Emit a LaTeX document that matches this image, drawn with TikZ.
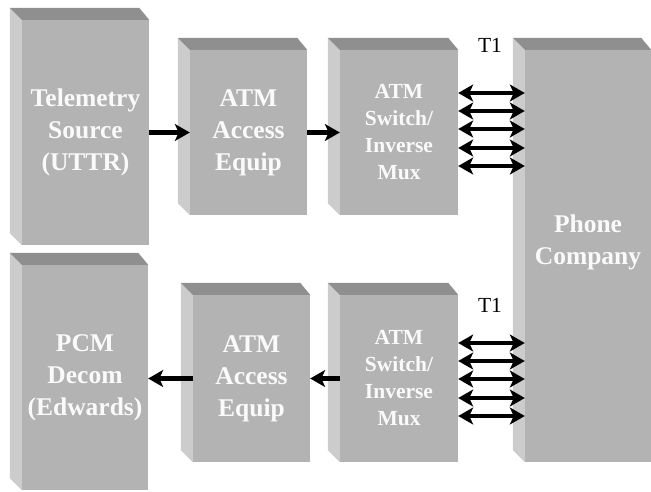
\documentclass[tikz,border=0pt]{standalone}
\usepackage{fontspec}
\setmainfont{Liberation Serif}
\usetikzlibrary{arrows.meta, calc}

\definecolor{frontgray}{RGB}{179,179,179}
\definecolor{sidegray}{RGB}{204,204,204}
\definecolor{topgray}{RGB}{143,143,143}

\begin{document}
\begin{tikzpicture}[
    x=1pt, y=-1pt,
    face/.style={fill=frontgray, inner sep=0pt, align=center, text=gray!4, font=\bfseries\fontsize{25.5}{32}\selectfont},
    smallface/.style={face, font=\bfseries\fontsize{21.5}{27}\selectfont},
    arr/.style={-{Stealth[length=15pt, width=17pt, inset=4pt]}, line width=4.5pt},
    dbl/.style={{Stealth[length=15pt, width=17pt, inset=4pt]}-{Stealth[length=15pt, width=17pt, inset=4pt]}, line width=4pt},
    lbl/.style={font=\fontsize{21.5}{24}\selectfont, inner sep=0pt}
]
\useasboundingbox (0,0) rectangle (651,491);

% front faces of the boxes
\node[face, minimum width=127, minimum height=225] (tele) at (85.5,132.5) {Telemetry\\Source\\(UTTR)};
\node[face, minimum width=117, minimum height=165] (accA) at (248.5,132.5) {ATM\\Access\\Equip};
\node[smallface, minimum width=118, minimum height=165] (swA) at (399,132.5) {ATM\\Switch/\\Inverse\\Mux};
\node[face, minimum width=126, minimum height=412] (phone) at (588,256) {};
\node[face, fill=none] (phonetxt) at (588,242) {Phone\\Company};
\node[smallface, minimum width=118, minimum height=167] (swB) at (399,378.5) {ATM\\Switch/\\Inverse\\Mux};
\node[face, minimum width=117, minimum height=167] (accB) at (251.5,378.5) {ATM\\Access\\Equip};
\node[face, minimum width=126, minimum height=225] (pcm) at (85,377.5) {PCM\\Decom\\(Edwards)};

% side and top faces
\foreach \n in {tele, accA, swA, phone, swB, accB, pcm} {
    \fill[sidegray] (\n.north west) -- ++(-12,-12) -- ($(\n.south west)+(-12,-12)$) -- (\n.south west) -- cycle;
    \fill[topgray] (\n.north west) -- ++(-12,-12) -- ($(\n.north east)+(-10,-12)$) -- (\n.north east) -- cycle;
}

\node[lbl] (t1a) at (490,45) {T1};
\node[lbl] (t1b) at (490,305) {T1};

% links
\draw[arr] (tele) -- (accA);
\draw[arr] (accA) -- (swA);
\draw[arr] (swB) -- (accB);
\draw[arr] (accB.west) -- (accB.west -| pcm.east);
\foreach \y in {93,111,129,148,166}
    \draw[dbl] (swA.east |- 0,\y) -- (phone.west |- 0,\y);
\foreach \y in {343,361,379,398,416}
    \draw[dbl] (swB.east |- 0,\y) -- (phone.west |- 0,\y);
\end{tikzpicture}
\end{document}
